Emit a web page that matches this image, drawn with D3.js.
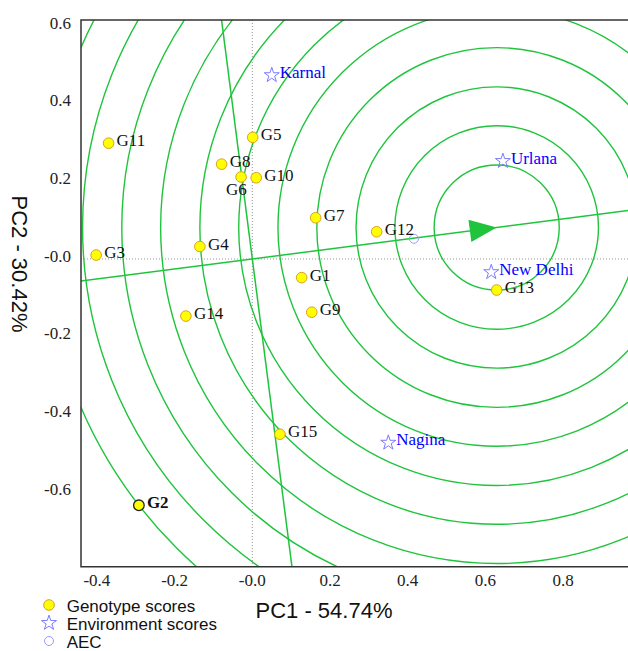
<!DOCTYPE html>
<html>
<head>
<meta charset="utf-8">
<script src="https://cdn.jsdelivr.net/npm/d3@7"></script>
<style>
  body { margin: 0; background: #fff; }
  svg { display: block; }
  .serif { font-family: "Liberation Serif", "Times New Roman", serif; font-size: 17px; }
  .sans { font-family: "Liberation Sans", Arial, sans-serif; }
</style>
</head>
<body>
<div id="chart"></div>
<script>
// Genotype scores (PC1, PC2)
const genotypes = ['G1', 'G2', 'G3', 'G4', 'G5', 'G6', 'G7', 'G8', 'G9', 'G10', 'G11', 'G12', 'G13', 'G14', 'G15'];
const genoPC1 = [0.127, -0.292, -0.402, -0.135, 0.001, -0.029, 0.163, -0.079, 0.153, 0.010, -0.370, 0.320, 0.629, -0.171, 0.071];
const genoPC2 = [-0.048, -0.634, 0.010, 0.032, 0.313, 0.211, 0.106, 0.244, -0.137, 0.209, 0.298, 0.070, -0.080, -0.147, -0.451];

// Environment scores
const environments = ['Karnal', 'Urlana', 'New Delhi', 'Nagina'];
const envPC1 = [0.050, 0.645, 0.615, 0.350];
const envPC2 = [0.473, 0.252, -0.034, -0.473];

// Average environment coordinate and the ideal point the rings are centred on
const aec = [0.416, 0.052];
const ideal = [0.629, 0.081];
const ringRadii = [0.161, 0.262, 0.362, 0.463, 0.563, 0.664, 0.764, 0.865, 0.965, 1.066, 1.166];

// Tick labels
const xTicks = [-0.4, -0.2, 0, 0.2, 0.4, 0.6, 0.8];
const xTickLabels = ['-0.4', '-0.2', '-0.0', '0.2', '0.4', '0.6', '0.8'];
const yTicks = [0.6, 0.4, 0.2, 0, -0.2, -0.4, -0.6];
const yTickLabels = ['0.6', '0.4', '0.2', '-0.0', '-0.2', '-0.4', '-0.6'];

const width = 628, height = 651;
const plot = { left: 81, top: 20, right: 628, bottom: 566.7 };
const green = '#1fc43c';

const svg = d3.select('#chart')
    .append('svg')
    .attr('width', width)
    .attr('height', height);

const x = d3.scaleLinear().domain([-0.441, 0.967]).range([plot.left, plot.right]);
const y = d3.scaleLinear().domain([-0.792, 0.615]).range([plot.bottom, plot.top]);

svg.append('clipPath')
    .attr('id', 'plot-clip')
    .append('rect')
    .attr('x', plot.left)
    .attr('y', plot.top)
    .attr('width', plot.right - plot.left + 5)
    .attr('height', plot.bottom - plot.top);

const g = svg.append('g').attr('clip-path', 'url(#plot-clip)');

// Dotted zero lines
g.append('line')
    .attr('x1', x(0)).attr('x2', x(0))
    .attr('y1', plot.top).attr('y2', plot.bottom)
    .attr('stroke', '#999').attr('stroke-width', 1)
    .attr('stroke-dasharray', '1,2');
g.append('line')
    .attr('x1', plot.left).attr('x2', plot.right)
    .attr('y1', y(0)).attr('y2', y(0))
    .attr('stroke', '#999').attr('stroke-width', 1)
    .attr('stroke-dasharray', '1,2');

// Concentric rings round the ideal point
const pxPerUnit = x(1) - x(0);
g.selectAll('circle.ring')
    .data(ringRadii)
    .enter()
    .append('circle')
    .attr('class', 'ring')
    .attr('cx', x(ideal[0]))
    .attr('cy', y(ideal[1]))
    .attr('r', d => d * pxPerUnit)
    .attr('fill', 'none')
    .attr('stroke', green)
    .attr('stroke-width', 1.4);

// AEC abscissa (through origin and ideal point) and ordinate (perpendicular)
const ext = 3;
g.append('line')
    .attr('x1', x(-ideal[0] * ext)).attr('y1', y(-ideal[1] * ext))
    .attr('x2', x(ideal[0] * ext)).attr('y2', y(ideal[1] * ext))
    .attr('stroke', green).attr('stroke-width', 1.5);
g.append('line')
    .attr('x1', x(ideal[1] * ext)).attr('y1', y(-ideal[0] * ext))
    .attr('x2', x(-ideal[1] * ext)).attr('y2', y(ideal[0] * ext))
    .attr('stroke', green).attr('stroke-width', 1.5);

// Arrow head pointing at the ideal point
const angle = Math.atan2(y(ideal[1]) - y(0), x(ideal[0]) - x(0)) * 180 / Math.PI;
g.append('path')
    .attr('d', 'M0,0 L-27,-11.2 L-27,11.2 Z')
    .attr('transform', `translate(${x(ideal[0])},${y(ideal[1])}) rotate(${angle})`)
    .attr('fill', green);

// Frame (right side runs off the picture)
svg.append('path')
    .attr('d', `M${plot.right + 5},${plot.top} H${plot.left} V${plot.bottom} H${plot.right + 5}`)
    .attr('fill', 'none')
    .attr('stroke', '#333')
    .attr('stroke-width', 1.5);

// Tick labels (no tick marks in the original)
svg.selectAll('text.xtick')
    .data(xTicks)
    .enter()
    .append('text')
    .attr('class', 'xtick serif')
    .attr('x', d => x(d))
    .attr('y', 585.5)
    .attr('text-anchor', 'middle')
    .attr('fill', '#222')
    .text((d, i) => xTickLabels[i]);
svg.selectAll('text.ytick')
    .data(yTicks)
    .enter()
    .append('text')
    .attr('class', 'ytick serif')
    .attr('x', 71)
    .attr('y', d => y(d) + 2.7)
    .attr('text-anchor', 'end')
    .attr('fill', '#222')
    .text((d, i) => yTickLabels[i]);

// AEC marker
g.append('circle')
    .attr('cx', x(aec[0]))
    .attr('cy', y(aec[1]))
    .attr('r', 4.5)
    .attr('fill', 'none')
    .attr('stroke', '#9a9aff')
    .attr('stroke-width', 1);

// Environment stars
const star = d3.symbol().type(d3.symbolStar).size(70);
environments.forEach((name, i) => {
    svg.append('path')
        .attr('d', star)
        .attr('transform', `translate(${x(envPC1[i])},${y(envPC2[i])})`)
        .attr('fill', 'none')
        .attr('stroke', '#7b7bff')
        .attr('stroke-width', 1);
    svg.append('text')
        .attr('class', 'serif')
        .attr('x', x(envPC1[i]) + 8)
        .attr('y', y(envPC2[i]) + 2.5)
        .attr('fill', '#0000ff')
        .text(name);
});

// Genotype points
genotypes.forEach((name, i) => {
    const px = x(genoPC1[i]), py = y(genoPC2[i]);
    const bold = name === 'G2';
    svg.append('circle')
        .attr('cx', px)
        .attr('cy', py)
        .attr('r', 5.3)
        .attr('fill', '#ffff00')
        .attr('stroke', bold ? '#222' : '#d9a020')
        .attr('stroke-width', bold ? 1.3 : 1);
    const below = name === 'G6';
    svg.append('text')
        .attr('class', 'serif')
        .attr('x', below ? px - 15 : px + 8)
        .attr('y', below ? py + 18 : py + 3)
        .attr('font-weight', bold ? 'bold' : 'normal')
        .attr('fill', '#111')
        .text(name);
});

// Axis titles
svg.append('text')
    .attr('class', 'sans')
    .attr('x', 324)
    .attr('y', 618.3)
    .attr('text-anchor', 'middle')
    .attr('font-size', '22px')
    .attr('fill', '#111')
    .text('PC1 - 54.74%');
svg.append('text')
    .attr('class', 'sans')
    .attr('transform', 'translate(11.5,264) rotate(90)')
    .attr('text-anchor', 'middle')
    .attr('font-size', '22px')
    .attr('fill', '#111')
    .text('PC2 - 30.42%');

// Legend
const legendItems = ['Genotype scores', 'Environment scores', 'AEC'];
legendItems.forEach((label, i) => {
    const ly = 605 + i * 18;
    if (i === 0) {
        svg.append('circle').attr('cx', 49).attr('cy', ly).attr('r', 5.3)
            .attr('fill', '#ffff00').attr('stroke', '#d9a020').attr('stroke-width', 1);
    } else if (i === 1) {
        svg.append('path').attr('d', star)
            .attr('transform', `translate(49,${ly})`)
            .attr('fill', 'none').attr('stroke', '#7b7bff').attr('stroke-width', 1);
    } else {
        svg.append('circle').attr('cx', 49).attr('cy', ly).attr('r', 4.5)
            .attr('fill', 'none').attr('stroke', '#9a9aff').attr('stroke-width', 1);
    }
    svg.append('text')
        .attr('class', 'sans')
        .attr('x', 66.7)
        .attr('y', ly + 7)
        .attr('font-size', '17px')
        .attr('fill', '#111')
        .text(label);
});
</script>
</body>
</html>
